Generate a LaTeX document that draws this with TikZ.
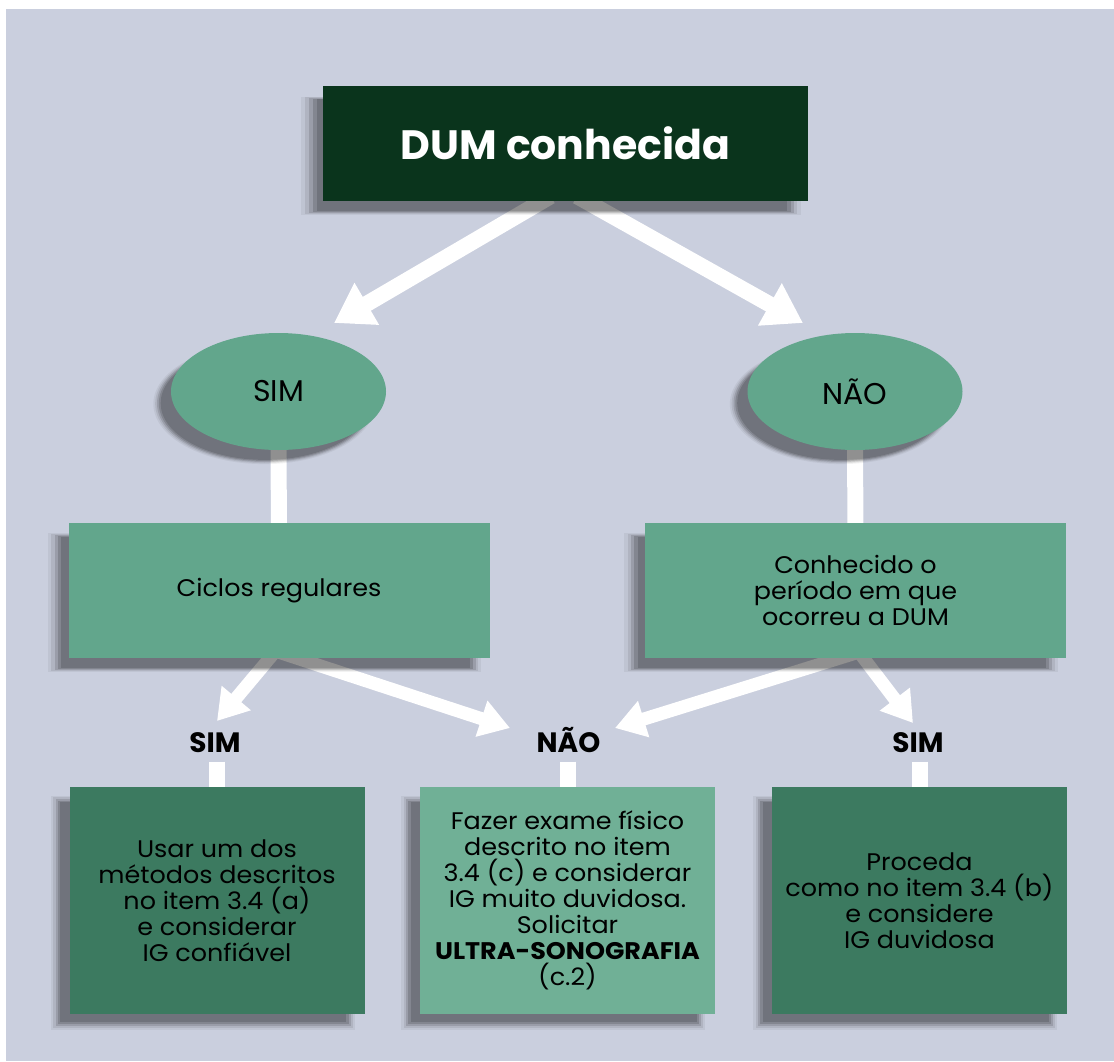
\documentclass[tikz,border=0pt]{standalone}
\usepackage{fontspec}
\setmainfont{Poppins}
\newfontfamily\bodyfont{Poppins}[FakeStretch=1.06]
\usetikzlibrary{arrows.meta,shapes.geometric,shadows}
\definecolor{bgc}{RGB}{202,207,222}
\definecolor{dumgreen}{RGB}{10,52,28}
\definecolor{tealA}{RGB}{98,166,140}
\definecolor{tealD}{RGB}{60,122,96}
\definecolor{tealL}{RGB}{112,176,150}
\pgfdeclarelayer{back}
\pgfdeclarelayer{conn}
\pgfsetlayers{back,conn,main}
\begin{document}
\begin{tikzpicture}[x=1pt,y=-1pt,
  shade box/.style={
    general shadow={fill=black,fill opacity=0.14,shadow xshift=-14pt,shadow yshift=-12pt,shadow scale=0.97},
    general shadow={fill=black,fill opacity=0.14,shadow xshift=-14pt,shadow yshift=-12pt,shadow scale=0.985},
    general shadow={fill=black,fill opacity=0.12,shadow xshift=-14pt,shadow yshift=-12pt},
    general shadow={fill=black,fill opacity=0.08,shadow xshift=-14pt,shadow yshift=-12pt,shadow scale=1.015},
    general shadow={fill=black,fill opacity=0.05,shadow xshift=-14pt,shadow yshift=-12pt,shadow scale=1.03}},
  titlebox/.style={shade box,fill=dumgreen,minimum width=485pt,minimum height=115pt,inner sep=0pt,text=white,font=\fontsize{41}{46}\selectfont\bfseries},
  oval/.style={shade box,ellipse,fill=tealA,minimum width=215pt,minimum height=117pt,inner sep=0pt,font=\fontsize{30}{34}\selectfont},
  midbox/.style={shade box,fill=tealA,minimum width=421pt,minimum height=135pt,inner sep=0pt,align=center,font=\bodyfont\fontsize{24}{26}\selectfont},
  lowbox/.style={shade box,minimum width=295pt,minimum height=227pt,inner sep=0pt,align=center,font=\bodyfont\fontsize{24}{26}\selectfont},
  lab/.style={font=\fontsize{28}{32}\selectfont\bfseries,text height=20pt,text depth=0pt,inner xsep=2pt,inner ysep=9pt},
  bigarrow/.style={white,line width=16pt,-{Triangle[width=46pt,length=38pt]}},
  smallarrow/.style={white,line width=13pt,-{Triangle[width=36pt,length=30pt]}},
  bar/.style={white,line width=16pt}
]
\begin{pgfonlayer}{back}
\fill[white] (0,0) rectangle (1114,1061);
\fill[bgc] (6,9) rectangle (1114,1061);
\end{pgfonlayer}
\useasboundingbox (0,0) rectangle (1114,1061);

\node[titlebox] (dum) at (565.5,143.5) {DUM conhecida};
\node[oval] (sim) at (278.5,391.5) {SIM};
\node[oval] (nao) at (855,391.5) {NÃO};
\node[midbox] (ciclos) at (279,590.5) {Ciclos regulares};
\node[midbox] (conh) at (855.5,590.5) {Conhecido o\\período em que\\ocorreu a DUM};
\node[lab] (s1) at (215,742.5) {SIM};
\node[lab] (n2) at (568.5,742.5) {NÃO};
\node[lab] (s3) at (918,742.5) {SIM};
\node[lowbox,fill=tealD] (b1) at (217,900.5) {Usar um dos\\métodos descritos\\no item 3.4 (a)\\e considerar\\IG confiável};
\node[lowbox,fill=tealL] (b2) at (567.5,900.5) {Fazer exame físico\\descrito no item\\3.4 (c) e considerar\\IG muito duvidosa.\\Solicitar\\\textbf{ULTRA-SONOGRAFIA}\\(c.2)};
\node[lowbox,fill=tealD] (b3) at (919.5,900.5) {Proceda\\como no item 3.4 (b)\\e considere\\IG duvidosa};

\begin{pgfonlayer}{conn}
\draw[bigarrow] ([xshift=-14.8pt,yshift=5pt]dum.south) -- ([xshift=55.5pt,yshift=68.5pt]sim.center);
\draw[bigarrow] ([xshift=11.5pt,yshift=5pt]dum.south) -- ([xshift=-52pt,yshift=68.5pt]nao.center);
\draw[bar] (sim.center) -- (ciclos.center);
\draw[bar] (nao.center) -- (conh.center);
\draw[smallarrow] ([xshift=-1pt,yshift=10pt]ciclos.south) -- ([xshift=2pt,yshift=21.5pt]s1.center);
\draw[smallarrow] ([xshift=-12.5pt,yshift=10pt]ciclos.south) -- ([xshift=-58.5pt,yshift=14.5pt]n2.center);
\draw[smallarrow] ([xshift=16pt,yshift=10pt]conh.south) -- ([xshift=46.5pt,yshift=14.5pt]n2.center);
\draw[smallarrow] ([xshift=0.5pt,yshift=10pt]conh.south) -- ([xshift=-5pt,yshift=19.5pt]s3.center);
\draw[bar] (b1.center |- s1.south) -- (b1.center);
\draw[bar] (b2.center |- n2.south) -- (b2.center);
\draw[bar] (b3.center |- s3.south) -- (b3.center);
\end{pgfonlayer}
\end{tikzpicture}
\end{document}
